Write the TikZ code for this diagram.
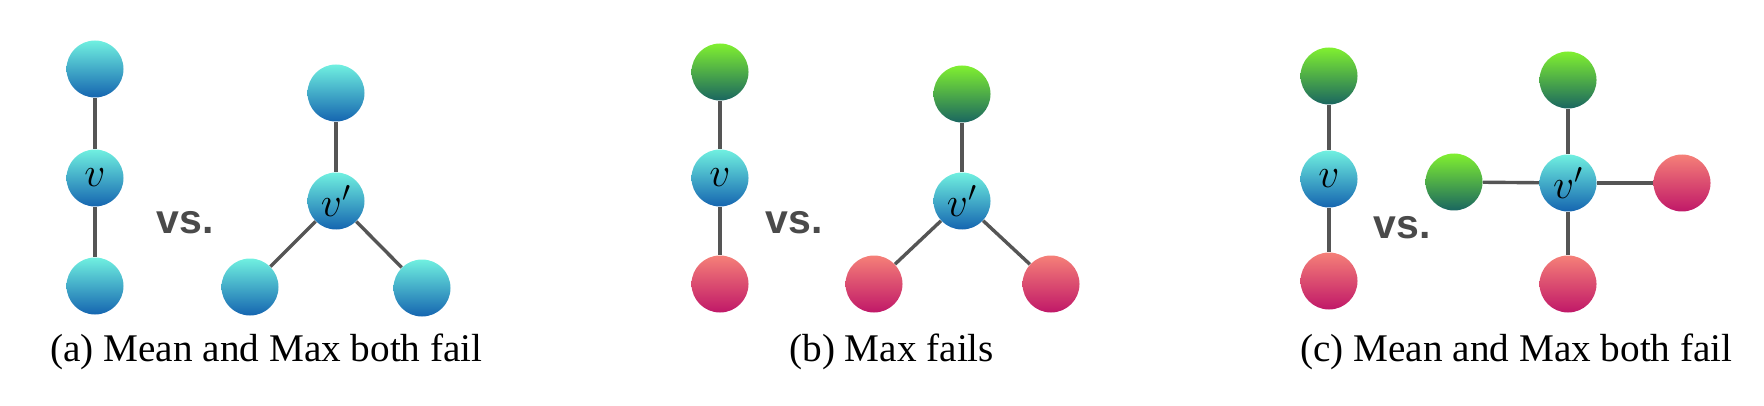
\documentclass[tikz,border=0pt]{standalone}
\usepackage[no-math]{fontspec}
\setmainfont{Liberation Serif}
\newfontfamily\vsfont{Liberation Sans}
\definecolor{cyantop}{HTML}{70F0E0}
\definecolor{cyanbot}{HTML}{1565B0}
\definecolor{greentop}{HTML}{80F030}
\definecolor{greenbot}{HTML}{1A6660}
\definecolor{redtop}{HTML}{F58078}
\definecolor{redbot}{HTML}{C01868}
\definecolor{linkgray}{HTML}{555555}
\definecolor{vsgray}{HTML}{4A4A4A}
\tikzset{
 ball/.style={circle, minimum size=28.5pt, inner sep=0pt, font=\fontsize{20}{24}\selectfont},
 cyanball/.style={ball, top color=cyantop, bottom color=cyanbot},
 greenball/.style={ball, top color=greentop, bottom color=greenbot},
 redball/.style={ball, top color=redtop, bottom color=redbot},
 link/.style={draw=linkgray, line width=1.7pt},
 vs/.style={text=vsgray, inner sep=0pt, font=\vsfont\bfseries\fontsize{20.5}{24}\selectfont},
 caption/.style={anchor=base west, inner sep=0pt, font=\fontsize{19.6}{23}\selectfont}
}
\begin{document}
\begin{tikzpicture}[x=0.5pt, y=-0.5pt]
\useasboundingbox (0,0) rectangle (1764,406);
% (a)
\node[cyanball] (a1) at (95,69) {};
\node[cyanball] (av) at (95,178) {$v$};
\node[cyanball] (a2) at (95,286) {};
\node[vs] (avs) at (185,223) {vs.};
\node[cyanball] (at) at (336,93) {};
\node[cyanball] (aw) at (336,201) {$v'$};
\node[cyanball] (al) at (250,287) {};
\node[cyanball] (ar) at (422,288) {};
\foreach \n in {a1, a2} \draw[link] (av) -- (\n);
\foreach \n in {at, al, ar} \draw[link] (aw) -- (\n);
\node[caption] (acap) at (50,361) {(a) Mean and Max both fail};
% (b)
\node[greenball] (b1) at (720,72) {};
\node[cyanball] (bv) at (720,178) {$v$};
\node[redball] (b2) at (720,284) {};
\node[vs] (bvs) at (794,223) {vs.};
\node[greenball] (bt) at (962,94) {};
\node[cyanball] (bw) at (962,201) {$v'$};
\node[redball] (bl) at (874,284) {};
\node[redball] (br) at (1051,284) {};
\foreach \n in {b1, b2} \draw[link] (bv) -- (\n);
\foreach \n in {bt, bl, br} \draw[link] (bw) -- (\n);
\node[caption] (bcap) at (789,361) {(b) Max fails};
% (c)
\node[greenball] (c1) at (1329,76) {};
\node[cyanball] (cv) at (1329,179) {$v$};
\node[redball] (c2) at (1329,281) {};
\node[vs] (cvs) at (1402,228) {vs.};
\node[greenball] (ct) at (1568,80) {};
\node[cyanball] (cw) at (1568,183) {$v'$};
\node[greenball] (cl) at (1454,182) {};
\node[redball] (cr) at (1682,183) {};
\node[redball] (cb) at (1568,284) {};
\foreach \n in {c1, c2} \draw[link] (cv) -- (\n);
\foreach \n in {ct, cl, cr, cb} \draw[link] (cw) -- (\n);
\node[caption] (ccap) at (1300,361) {(c) Mean and Max both fail};
\end{tikzpicture}
\end{document}
